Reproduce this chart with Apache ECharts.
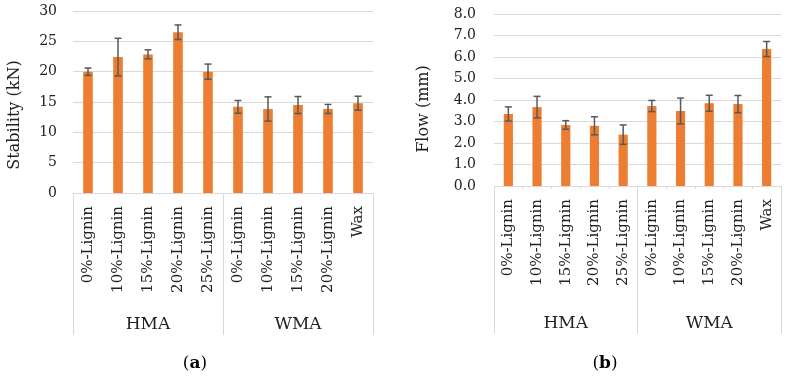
<!DOCTYPE html>
<html>
<head>
<meta charset="utf-8">
<script src="https://cdn.jsdelivr.net/npm/echarts@6/dist/echarts.min.js"></script>
<style>html,body{margin:0;padding:0;background:#fff;}#c{width:787px;height:377px;}</style>
</head>
<body>
<div id="c"></div>
<script>
const categories = ['0%-Lignin','10%-Lignin','15%-Lignin','20%-Lignin','25%-Lignin','0%-Lignin','10%-Lignin','15%-Lignin','20%-Lignin','Wax'];
const groups = ['HMA','WMA'];
const stabilityMean = [20.0, 22.4, 22.85, 26.5, 20.0, 14.2, 13.85, 14.5, 13.85, 14.8];
const stabilityErr  = [0.6, 3.1, 0.75, 1.2, 1.25, 1.05, 2.0, 1.4, 0.75, 1.15];
const flowMean = [3.35, 3.67, 2.84, 2.80, 2.39, 3.72, 3.49, 3.85, 3.81, 6.37];
const flowErr  = [0.33, 0.5, 0.2, 0.42, 0.45, 0.26, 0.6, 0.37, 0.4, 0.35];

const FONT = 'DejaVu Serif';
const GRID = '#d9d9d9';
const BAR = '#ED7D31';
const ERR = '#595959';

function errSeries(xi, yi, mean, err) {
  return {
    type: 'custom', xAxisIndex: xi, yAxisIndex: yi, z: 5,
    data: mean.map((m, i) => [i, m - err[i], m + err[i]]),
    renderItem: function (params, api) {
      const lo = api.coord([api.value(0), api.value(1)]);
      const hi = api.coord([api.value(0), api.value(2)]);
      const w = 3.5;
      const st = { stroke: ERR, lineWidth: 1.5 };
      return { type: 'group', children: [
        { type: 'line', shape: { x1: hi[0], y1: hi[1], x2: lo[0], y2: lo[1] }, style: st },
        { type: 'line', shape: { x1: hi[0]-w, y1: hi[1], x2: hi[0]+w, y2: hi[1] }, style: st },
        { type: 'line', shape: { x1: lo[0]-w, y1: lo[1], x2: lo[0]+w, y2: lo[1] }, style: st }
      ]};
    }
  };
}

function catAxis(gi, showTick) {
  return {
    type: 'category', gridIndex: gi, data: categories, position: 'bottom',
    axisLine: { show: true, lineStyle: { color: GRID, width: 1 } },
    axisTick: { show: showTick, length: 3, lineStyle: { color: GRID } },
    axisLabel: { rotate: 90, interval: 0, margin: 13, color: '#222', fontFamily: FONT, fontSize: 15 }
  };
}
function groupAxis(gi, off) {
  return {
    type: 'category', gridIndex: gi, data: groups, position: 'bottom', offset: off,
    axisLine: { show: false },
    axisTick: { show: true, inside: true, length: off, interval: 0, lineStyle: { color: GRID, width: 1 } },
    axisLabel: { inside: true, margin: 2, color: '#222', fontFamily: FONT, fontSize: 17 }
  };
}

const titleRich = {
  p: { fontFamily: FONT, fontSize: 17, fontWeight: 'normal', color: '#000' },
  b: { fontFamily: FONT, fontSize: 17, fontWeight: 'bold', color: '#000' }
};

const chart = echarts.init(document.getElementById('c'));
chart.setOption({
  animation: false,
  backgroundColor: '#fff',
  title: [
    { text: '{p|(}{b|a}{p|)}', left: 190, top: 350, textAlign: 'center',
      textStyle: { fontWeight: 'normal', rich: titleRich } },
    { text: '{p|(}{b|b}{p|)}', left: 600, top: 350, textAlign: 'center',
      textStyle: { fontWeight: 'normal', rich: titleRich } }
  ],
  grid: [
    { left: 73, right: 414, top: 11, bottom: 184 },
    { left: 494, right: 6, top: 14, bottom: 191 }
  ],
  xAxis: [catAxis(0, false), groupAxis(0, 142), catAxis(1, true), groupAxis(1, 148)],
  yAxis: [
    { type: 'value', gridIndex: 0, min: 0, max: 30, interval: 5,
      name: 'Stability (kN)', nameLocation: 'middle', nameGap: 50,
      nameTextStyle: { fontFamily: FONT, fontSize: 16, color: '#222', padding: [0, 26, 0, 0] },
      axisLine: { show: false }, axisTick: { show: false },
      axisLabel: { margin: 16, color: '#222', fontFamily: FONT, fontSize: 14 },
      splitLine: { lineStyle: { color: GRID, width: 1 } } },
    { type: 'value', gridIndex: 1, min: 0, max: 8, interval: 1,
      name: 'Flow (mm)', nameLocation: 'middle', nameGap: 62,
      nameTextStyle: { fontFamily: FONT, fontSize: 16, color: '#222', padding: [0, 18, 0, 0] },
      axisLine: { show: false }, axisTick: { show: false },
      axisLabel: { margin: 18, color: '#222', fontFamily: FONT, fontSize: 14, formatter: v => v.toFixed(1) },
      splitLine: { lineStyle: { color: GRID, width: 1 } } }
  ],
  series: [
    { type: 'bar', xAxisIndex: 0, yAxisIndex: 0, data: stabilityMean, barWidth: '32%', itemStyle: { color: BAR } },
    errSeries(0, 0, stabilityMean, stabilityErr),
    { type: 'bar', xAxisIndex: 2, yAxisIndex: 1, data: flowMean, barWidth: '32%', itemStyle: { color: BAR } },
    errSeries(2, 1, flowMean, flowErr)
  ]
});
</script>
</body>
</html>
